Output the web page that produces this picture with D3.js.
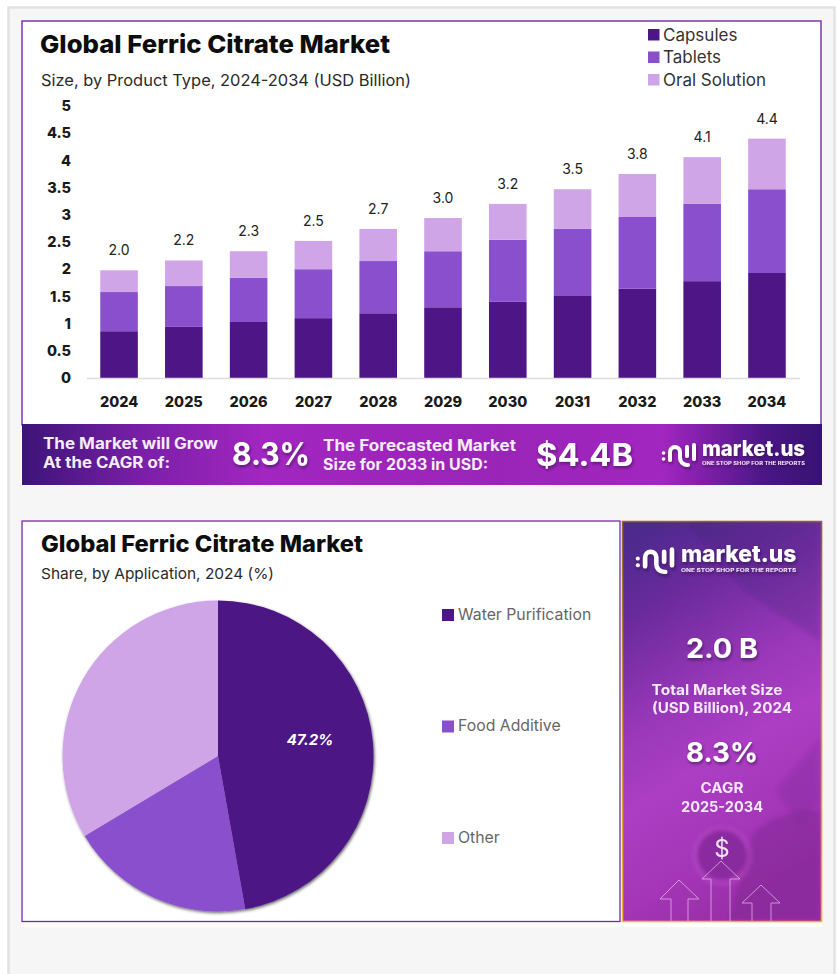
<!DOCTYPE html>
<html><head><meta charset="utf-8">
<script src="https://cdnjs.cloudflare.com/ajax/libs/d3/7.8.5/d3.min.js"></script>
<style>html,body{margin:0;padding:0;background:#fff}svg{display:block}text{font-family:Inter,"Open Sans",sans-serif}</style>
</head><body><div id="c"></div>
<script>
const years=["2024","2025","2026","2027","2028","2029","2030","2031","2032","2033","2034"];
const capsules=[0.86,0.94,1.03,1.10,1.19,1.30,1.40,1.52,1.64,1.78,1.93];
const tablets=[0.72,0.75,0.81,0.90,0.96,1.03,1.14,1.22,1.32,1.42,1.54];
const oral=[0.40,0.47,0.49,0.52,0.59,0.61,0.66,0.73,0.79,0.86,0.93];
const totals=["2.0","2.2","2.3","2.5","2.7","3.0","3.2","3.5","3.8","4.1","4.4"];
const yTicks=[0,0.5,1,1.5,2,2.5,3,3.5,4,4.5,5];
const seriesNames=["Capsules","Tablets","Oral Solution"];
const colors=["#4d1585","#8a4fcc","#d0a5e8"];
const appNames=["Water Purification","Food Additive","Other"];
const appShares=[47.2,19.2,33.6];

const svg=d3.select("#c").append("svg").attr("width",838).attr("height",974);
const defs=svg.append("defs");
function grad(id,attrs,stops){const g=defs.append("linearGradient").attr("id",id);
 Object.entries(attrs).forEach(([k,v])=>g.attr(k,v));
 stops.forEach(([o,c])=>g.append("stop").attr("offset",o).attr("stop-color",c));}
grad("ban",{x1:0,x2:1,y1:0,y2:0},[[0,"#3c1478"],[0.15,"#7a1fa8"],[0.3,"#a226c0"],[0.6,"#9a24b8"],[0.8,"#a226c0"],[0.93,"#4a1686"],[1,"#371272"]]);
grad("side",{x1:0.2,x2:0.5,y1:0,y2:1},[[0,"#4d2a8e"],[0.18,"#6a2a9c"],[0.45,"#9a38ba"],[0.62,"#ac3ec4"],[0.85,"#a335b6"],[1,"#9a2fa8"]]);
grad("gold",{x1:0,x2:0,y1:0,y2:1},[[0,"#8a6a2a"],[0.5,"#c89a3a"],[1,"#f5b53c"]]);
const sh=defs.append("filter").attr("id","ts").attr("x","-20%").attr("y","-20%").attr("width","140%").attr("height","150%");
sh.append("feDropShadow").attr("dx",1).attr("dy",2).attr("stdDeviation",1.5).attr("flood-color","#2a0a40").attr("flood-opacity",.6);
const ps=defs.append("filter").attr("id","ps").attr("x","-5%").attr("y","-5%").attr("width","110%").attr("height","110%");
ps.append("feDropShadow").attr("dx",1).attr("dy",1.5).attr("stdDeviation",1.5).attr("flood-color","#000").attr("flood-opacity",.6);
const bl=defs.append("filter").attr("id","bl");
bl.append("feGaussianBlur").attr("stdDeviation",2);

// page frame
svg.append("rect").attr("x",0).attr("y",0).attr("width",838).attr("height",974).attr("fill","#fff");
svg.append("rect").attr("x",8.5).attr("y",7.5).attr("width",826).attr("height",970).attr("fill","#f6f6f6").attr("stroke","#e2e2e2").attr("stroke-width",2.5);
svg.append("rect").attr("x",21).attr("y",20).attr("width",801).attr("height",466).attr("fill","#fff");
svg.append("rect").attr("x",21).attr("y",520).attr("width",801).attr("height",407).attr("fill","#fff");

function T(x,y,s,size,weight,fill,opt={}){const t=svg.append("text").attr("x",x).attr("y",y).text(s)
 .attr("font-size",size).attr("font-weight",weight).attr("fill",fill);
 if(opt.anchor)t.attr("text-anchor",opt.anchor);
 if(opt.len)t.attr("textLength",opt.len).attr("lengthAdjust","spacingAndGlyphs");
 if(opt.shadow)t.attr("filter","url(#ts)");
 return t;}

// top panel
svg.append("rect").attr("x",22).attr("y",21).attr("width",799).attr("height",404).attr("fill","#fff").attr("stroke","#7428a8").attr("stroke-width",1.4);
T(40,53,"Global Ferric Citrate Market",25,800,"#0d0d0d",{len:350});
T(41,86,"Size, by Product Type, 2024-2034 (USD Billion)",16,400,"#2a2a2a",{len:370});

const x=d3.scaleBand().domain(years).range([100.25,785.75]).paddingInner(0.42).paddingOuter(0);
const y=d3.scaleLinear().domain([0,5]).range([378,106]);
const rows=years.map((yr,i)=>({yr,a:capsules[i],b:tablets[i],c:oral[i]}));
const stack=d3.stack().keys(["a","b","c"])(rows);
const g=svg.append("g");
g.selectAll("g").data(stack).join("g").attr("fill",(d,i)=>colors[i])
 .selectAll("rect").data(d=>d).join("rect")
 .attr("x",d=>x(d.data.yr)).attr("width",x.bandwidth())
 .attr("y",d=>y(d[1])).attr("height",d=>y(d[0])-y(d[1]));

const ax=svg.append("g").attr("transform","translate(0,378.5)").call(d3.axisBottom(x).tickSize(0).tickPadding(18));
ax.select(".domain").attr("stroke","#dcdcdc").attr("stroke-width",1.5).attr("d","M87,0H800");
ax.selectAll("text").attr("font-size",14.5).attr("font-weight",800).attr("fill","#1a1a1a").style("font-family","Inter");
const ay=svg.append("g").attr("transform","translate(71,0)").call(d3.axisLeft(y).tickValues(yTicks).tickFormat(d=>String(d)).tickSize(0).tickPadding(0));
ay.select(".domain").remove();
ay.selectAll("text").attr("font-size",14.5).attr("font-weight",800).attr("fill","#1a1a1a").style("font-family","Inter");
svg.append("g").selectAll("text").data(rows).join("text")
 .attr("x",d=>x(d.yr)+x.bandwidth()/2).attr("y",d=>y(d.a+d.b+d.c)-15)
 .attr("text-anchor","middle").attr("font-size",14).attr("fill","#222").text((d,i)=>totals[i]);

// legend top
const lg=svg.append("g").selectAll("g").data(seriesNames).join("g").attr("transform",(d,i)=>`translate(648,${29+i*22.5})`);
lg.append("rect").attr("width",11.5).attr("height",11.5).attr("fill",(d,i)=>colors[i]);
lg.append("text").attr("x",15).attr("y",11.5).attr("font-size",17).attr("fill","#333").text(d=>d);

// logo
function logo(ox,oy,s){
 const l=svg.append("g").attr("transform",`translate(${ox},${oy}) scale(${s})`).attr("filter","url(#ts)");
 l.append("circle").attr("cx",2.5).attr("cy",12).attr("r",1.8).attr("fill","#fff");
 l.append("circle").attr("cx",2.5).attr("cy",18).attr("r",1.8).attr("fill","#fff");
 l.append("path").attr("d","M9,19V11a5,5 0 0 1 10,0V17a7,7 0 0 0 7,7h1").attr("fill","none").attr("stroke","#fff").attr("stroke-width",4).attr("stroke-linecap","round");
 l.append("path").attr("d","M26,6V15M33,4V18").attr("fill","none").attr("stroke","#fff").attr("stroke-width",4).attr("stroke-linecap","round");
 l.append("text").attr("x",41).attr("y",15).attr("font-size",21).attr("font-weight",800).attr("fill","#fff").attr("textLength",103).attr("lengthAdjust","spacingAndGlyphs").text("market.us");
 l.append("text").attr("x",41).attr("y",24).attr("font-size",4.5).attr("font-weight",700).attr("fill","#f0e0f5").attr("textLength",103).attr("lengthAdjust","spacingAndGlyphs").text("ONE STOP SHOP FOR THE REPORTS");
}

// banner
svg.append("rect").attr("x",22).attr("y",424).attr("width",800).attr("height",61).attr("fill","url(#ban)");
T(43,449,"The Market will Grow",15.5,700,"#f4ecf8",{len:175});
T(43,468,"At the CAGR of:",15.5,700,"#f4ecf8",{len:127});
T(232,465,"8.3%",31,700,"#fff",{len:78,shadow:1});
T(323,451,"The Forecasted Market",15.5,700,"#f4ecf8",{len:193});
T(323,470,"Size for 2033 in USD:",15.5,700,"#f4ecf8",{len:165});
T(536,466,"$4.4B",31,700,"#fff",{len:97,shadow:1});
logo(661,441,1);

// bottom panel
svg.append("rect").attr("x",22).attr("y",521).attr("width",598).attr("height",400.5).attr("fill","#fff").attr("stroke","#7428a8").attr("stroke-width",1.3);
T(41,552,"Global Ferric Citrate Market",22.5,800,"#0d0d0d",{len:322});
T(41,579,"Share, by Application, 2024 (%)",15,400,"#2a2a2a",{len:233});

const pie=d3.pie().sort(null).value(d=>d)(appShares);
const arc=d3.arc().innerRadius(0).outerRadius(155.5);
const pg=svg.append("g").attr("transform","translate(218,756)").attr("filter","url(#ps)");
pg.selectAll("path").data(pie).join("path").attr("d",arc).attr("fill",(d,i)=>colors[i]);
svg.append("text").attr("x",310).attr("y",745).attr("text-anchor","middle").attr("font-size",15).attr("font-weight",700).attr("font-style","italic").attr("fill","#fff").text(appShares[0].toFixed(1)+"%");

const lg2=svg.append("g").selectAll("g").data(appNames).join("g").attr("transform",(d,i)=>`translate(442,${609+i*111.5})`);
lg2.append("rect").attr("width",12).attr("height",12).attr("fill",(d,i)=>colors[i]);
lg2.append("text").attr("x",16).attr("y",10.8).attr("font-size",15.8).attr("fill","#666").text(d=>d);

// side panel
svg.append("rect").attr("x",622.5).attr("y",521.5).attr("width",199).attr("height",400).attr("fill","url(#side)").attr("stroke","url(#gold)").attr("stroke-width",1.6);
const deco=svg.append("g").attr("filter","url(#bl)");
deco.append("path").attr("d","M690,524L819,524L819,640L745,590Z").attr("fill","#3c1a70").attr("opacity",.22);
deco.append("path").attr("d","M776,790L819,740V800L800,825Z").attr("fill","#6a1f8a").attr("opacity",.22);
deco.append("path").attr("d","M730,919L752,835Q775,810 819,810V919Z").attr("fill","#7a258f").attr("opacity",.42);
deco.append("circle").attr("cx",722).attr("cy",856).attr("r",30).attr("fill","#c255cf").attr("opacity",.35);
deco.append("circle").attr("cx",722).attr("cy",855).attr("r",25).attr("fill","#84279a").attr("opacity",.85);
const ar=svg.append("g").attr("fill","none").attr("stroke","#e7c4ee").attr("stroke-width",1).attr("opacity",.7);
ar.append("path").attr("d","M671,921V899H660L679,880L699,899H688V921");
ar.append("path").attr("d","M711,921V879H702L721,861L740,879H730V921");
ar.append("path").attr("d","M752,921V903H742L761,885L780,903H771V921");
logo(635,545,1.12);
T(722,658,"2.0 B",27,700,"#fff",{anchor:"middle",shadow:1,len:72});
T(717,695,"Total Market Size",14.5,700,"#f6e9fa",{anchor:"middle",len:131});
T(722,713,"(USD Billion), 2024",14.5,700,"#f6e9fa",{anchor:"middle",len:140});
T(722,762,"8.3%",27,700,"#fff",{anchor:"middle",shadow:1,len:72});
T(722,793,"CAGR",14,700,"#f6e9fa",{anchor:"middle",len:43});
T(722,812,"2025-2034",14,700,"#f6e9fa",{anchor:"middle",len:82});
T(722,857,"$",24,400,"#f3e3f6",{anchor:"middle"});
</script></body></html>
